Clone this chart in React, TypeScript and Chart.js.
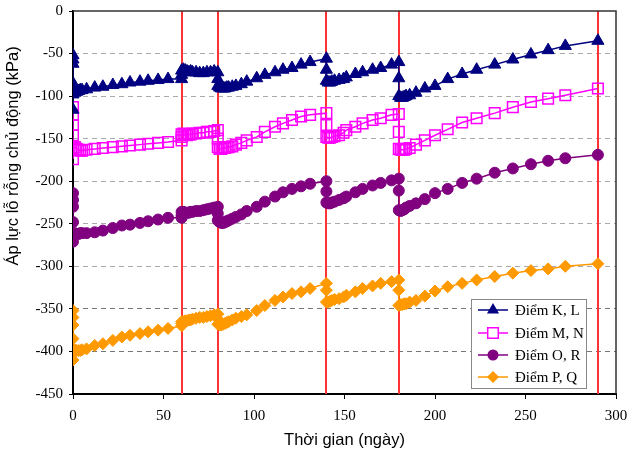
import React, { useEffect, useRef } from 'react';
import { Chart, registerables } from 'chart.js';

Chart.register(...registerables);

// Time (days) shared by all four series
const days = [
  0, 0, 0, 0, 0, 0, 1, 2, 3, 4, 5, 7.5, 12, 16.5, 22, 27, 31.5, 37, 41.5, 47, 52.5, 60,
  60, 60, 61, 62, 63, 64, 65, 66, 68, 70, 72, 74, 76, 78, 80,
  80, 80, 81, 82, 83, 84, 85, 86, 88, 90, 93, 96, 101.5, 106, 111.6, 116, 121, 126, 131, 140,
  140, 140, 141, 142, 143, 144.5, 147, 149.5, 151, 156, 160, 165.5, 170, 176, 180,
  180, 180, 181, 182, 183, 184, 186, 189.5, 194.4, 200, 207, 215, 223, 233, 243, 253, 262.5, 272, 290,
];

const seriesKL = [
  -52, -57, -62, -85, -116, -98, -96, -95, -94, -93, -93, -92, -90, -89, -87, -86, -84, -83, -82, -81, -80, -80,
  -75, -70, -69, -70, -71, -72, -71, -72, -72, -73, -73, -72, -72, -71, -72,
  -80, -88, -90, -91, -91, -91, -90, -90, -89, -88, -86, -83, -79, -75, -72, -69, -67, -63, -60, -56,
  -69, -82, -84, -84, -83, -82, -81, -80, -78, -74, -72, -69, -67, -63, -60,
  -79, -100, -102, -102, -101, -100, -99, -96, -91, -88, -80, -74, -69, -63, -57, -51, -46, -41, -35,
];

const seriesMN = [
  -113, -122, -134, -146, -174, -161, -160, -162, -163, -164, -164, -163, -162, -161, -160, -159, -158, -157, -156, -155, -154, -152,
  -148, -145, -144, -145, -146, -145, -145, -144, -144, -143, -143, -142, -142, -141, -140,
  -150, -160, -162, -162, -161, -161, -160, -160, -159, -157, -155, -152, -148, -142, -136, -132, -128, -124, -122, -120,
  -134, -148, -149, -149, -148, -147, -146, -143, -140, -136, -132, -128, -126, -122, -121,
  -142, -162, -163, -163, -163, -162, -161, -157, -152, -146, -139, -131, -126, -120, -113, -107, -103, -99, -91,
];

const seriesOR = [
  -214, -222, -230, -248, -271, -262, -261, -262, -262, -261, -261, -261, -260, -258, -255, -252, -251, -249, -247, -245, -243, -243,
  -240, -236, -236, -237, -237, -237, -236, -236, -235, -235, -234, -233, -232, -231, -230,
  -238, -246, -248, -249, -249, -248, -247, -246, -244, -242, -239, -235, -230, -224, -218, -213, -209, -206, -203, -200,
  -212, -225, -226, -226, -225, -224, -222, -220, -218, -213, -209, -205, -202, -199, -197,
  -211, -234, -235, -234, -233, -231, -229, -226, -221, -214, -209, -202, -197, -190, -185, -180, -176, -173, -169,
];

const seriesPQ = [
  -352, -360, -369, -385, -410, -399, -398, -399, -399, -399, -398, -397, -393, -391, -387, -383, -381, -379, -377, -375, -373, -370,
  -367, -365, -365, -364, -364, -363, -363, -362, -361, -360, -360, -359, -358, -357, -356,
  -362, -368, -369, -369, -368, -367, -366, -365, -363, -361, -359, -357, -352, -346, -340, -336, -332, -330, -326, -320,
  -328, -342, -342, -341, -340, -339, -338, -336, -334, -330, -326, -323, -320, -318, -316,
  -328, -346, -345, -345, -344, -344, -342, -340, -335, -329, -324, -320, -316, -312, -308, -305, -303, -300, -297,
];

const seriesLabels = ['Điểm K, L', 'Điểm M, N', 'Điểm O, R', 'Điểm P, Q'];
const eventDays = [60, 80, 140, 180, 290];
const xTitle = 'Thời gian (ngày)';
const yTitle = 'Áp lực lỗ rỗng chủ động (kPa)';

const COLORS = ['#000080', '#FF00FF', '#800080', '#FF9900'];
const STYLES = ['triangle', 'rect', 'circle', 'rectRot'];
const RADII = [7, 7.5, 5.5, 6];

function drawMarker(ctx: CanvasRenderingContext2D, style: string, x: number, y: number, r: number, color: string) {
  ctx.save();
  ctx.beginPath();
  if (style === 'triangle') {
    ctx.moveTo(x, y - r);
    ctx.lineTo(x + r * 0.866, y + r * 0.5);
    ctx.lineTo(x - r * 0.866, y + r * 0.5);
    ctx.closePath();
    ctx.fillStyle = color;
    ctx.fill();
  } else if (style === 'rect') {
    const s = r * Math.SQRT1_2;
    ctx.rect(x - s, y - s, 2 * s, 2 * s);
    ctx.fillStyle = '#fff';
    ctx.fill();
    ctx.strokeStyle = color;
    ctx.lineWidth = 1.5;
    ctx.stroke();
  } else if (style === 'circle') {
    ctx.arc(x, y, r, 0, Math.PI * 2);
    ctx.fillStyle = color;
    ctx.fill();
  } else {
    ctx.moveTo(x, y - r);
    ctx.lineTo(x + r, y);
    ctx.lineTo(x, y + r);
    ctx.lineTo(x - r, y);
    ctx.closePath();
    ctx.fillStyle = color;
    ctx.fill();
  }
  ctx.restore();
}

const decorPlugin = {
  id: 'decor',
  beforeDatasetsDraw(chart: any) {
    const { ctx, chartArea, scales } = chart;
    ctx.save();
    ctx.strokeStyle = '#FF3333';
    ctx.lineWidth = 2;
    eventDays.forEach((d) => {
      const px = Math.round(scales.x.getPixelForValue(d));
      ctx.beginPath();
      ctx.moveTo(px, chartArea.top);
      ctx.lineTo(px, chartArea.bottom);
      ctx.stroke();
    });
    ctx.restore();
  },
  afterDatasetsDraw(chart: any) {
    const { ctx, chartArea } = chart;
    ctx.save();
    ctx.strokeStyle = '#333';
    ctx.lineWidth = 1.5;
    ctx.beginPath();
    ctx.moveTo(chartArea.left, chartArea.top);
    ctx.lineTo(chartArea.right, chartArea.top);
    ctx.lineTo(chartArea.right, chartArea.bottom);
    ctx.stroke();
    ctx.restore();
  },
  afterDraw(chart: any) {
    const { ctx, chartArea } = chart;
    ctx.save();
    // axis titles
    ctx.fillStyle = '#000';
    ctx.font = '16.5px "Liberation Sans", Arial, sans-serif';
    ctx.textAlign = 'center';
    ctx.textBaseline = 'middle';
    ctx.fillText(xTitle, (chartArea.left + chartArea.right) / 2, 440);
    ctx.save();
    ctx.translate(13, 156);
    ctx.rotate(-Math.PI / 2);
    ctx.fillText(yTitle, 0, 0);
    ctx.restore();

    // legend box
    const bx = 471, by = 299, bw = 115, bh = 89;
    ctx.fillStyle = '#fff';
    ctx.fillRect(bx, by, bw, bh);
    ctx.strokeStyle = '#888';
    ctx.lineWidth = 1;
    ctx.strokeRect(bx + 0.5, by + 0.5, bw, bh);
    const rows = [310, 333, 355, 377];
    ctx.font = '15px "Liberation Serif", "Times New Roman", serif';
    ctx.textAlign = 'left';
    seriesLabels.forEach((lab, i) => {
      const y = rows[i];
      ctx.strokeStyle = COLORS[i];
      ctx.lineWidth = 1.5;
      ctx.beginPath();
      ctx.moveTo(478, y);
      ctx.lineTo(508, y);
      ctx.stroke();
      drawMarker(ctx, STYLES[i], 493, y, RADII[i], COLORS[i]);
      ctx.fillStyle = '#000';
      ctx.fillText(lab, 515, y + 1);
    });
    ctx.restore();
  },
};

export default function App() {
  const ref = useRef<HTMLCanvasElement | null>(null);

  useEffect(() => {
    if (!ref.current) return;
    const allSeries = [seriesKL, seriesMN, seriesOR, seriesPQ];
    const datasets = allSeries.map((vals, i) => ({
      label: seriesLabels[i],
      data: days.map((d, j) => ({ x: d, y: vals[j] })),
      showLine: true,
      borderColor: COLORS[i],
      backgroundColor: i === 1 ? 'rgba(0,0,0,0)' : COLORS[i],
      pointBorderColor: COLORS[i],
      pointBackgroundColor: i === 1 ? 'rgba(0,0,0,0)' : COLORS[i],
      pointStyle: STYLES[i],
      pointRadius: RADII[i],
      pointBorderWidth: i === 1 ? 1.5 : 1,
      borderWidth: 1.5,
      tension: 0,
    }));

    const chart = new Chart(ref.current, {
      type: 'scatter',
      data: { datasets } as any,
      plugins: [decorPlugin],
      options: {
        animation: false,
        responsive: false,
        layout: { padding: { left: 0, right: 13, top: 11, bottom: 0 } },
        plugins: { legend: { display: false }, tooltip: { enabled: false } },
        scales: {
          x: {
            type: 'linear',
            min: 0,
            max: 300,
            afterFit: (s: any) => { s.height = 64; s.paddingLeft = 0; s.paddingRight = 0; },
            ticks: {
              stepSize: 50,
              padding: 8,
              color: '#000',
              font: { family: '"Liberation Serif", "Times New Roman", serif', size: 15 },
            },
            grid: { drawOnChartArea: false, drawTicks: true, tickLength: 5, tickColor: '#000' },
            border: { color: '#000', width: 2 },
          },
          y: {
            type: 'linear',
            min: -450,
            max: 0,
            afterFit: (s: any) => { s.width = 73; s.paddingTop = 0; s.paddingBottom = 0; },
            ticks: {
              stepSize: 50,
              padding: 6,
              color: '#000',
              font: { family: '"Liberation Serif", "Times New Roman", serif', size: 15 },
            },
            grid: {
              color: (c: any) => {
                const v = c.tick ? c.tick.value : null;
                if (v === 0 || v === -450) return 'rgba(0,0,0,0)';
                if (v === -350 || v === -400) return '#777';
                return '#aaa';
              },
              lineWidth: 1,
              drawTicks: true,
              tickLength: 4,
              tickColor: '#000',
              tickBorderDash: [],
            },
            border: { color: '#000', width: 2, dash: [5, 4] },
          },
        },
      } as any,
    });
    return () => chart.destroy();
  }, []);

  return (
    <div style={{ position: 'absolute', left: 0, top: 0, width: 629, height: 458, background: '#fff' }}>
      <canvas ref={ref} width={629} height={458} style={{ display: 'block', width: 629, height: 458 }} />
    </div>
  );
}
